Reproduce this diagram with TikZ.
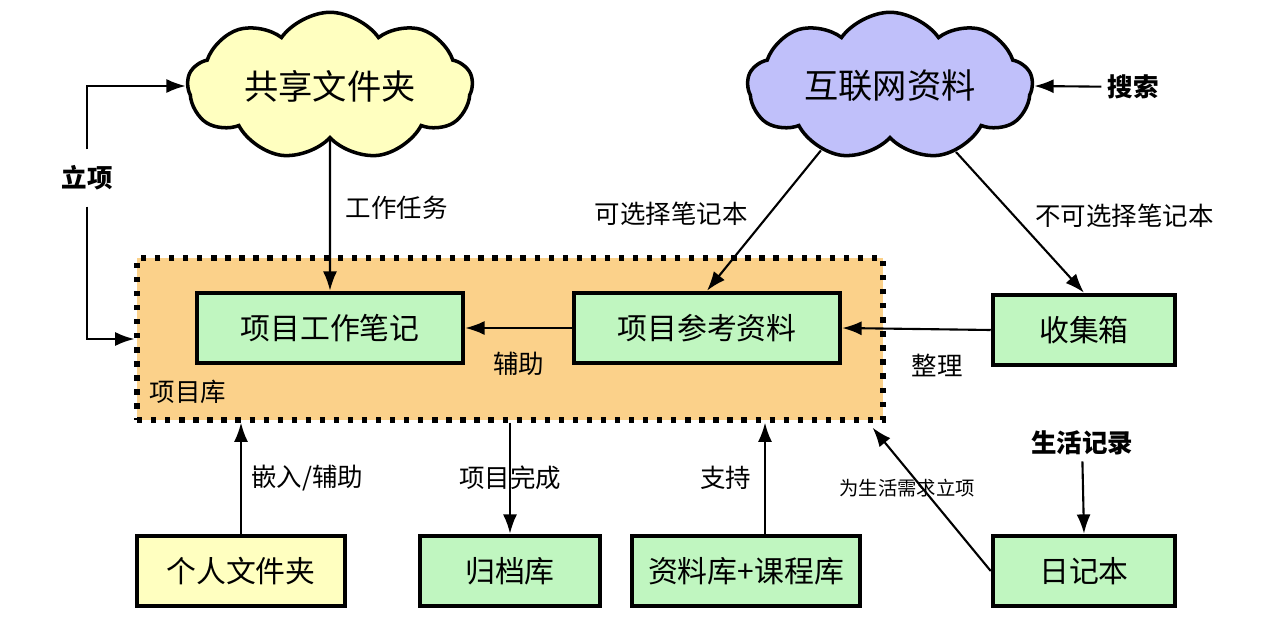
\documentclass[tikz,border=0pt]{standalone}
\usepackage{fontspec}
\setmainfont{Noto Sans CJK SC}
\usetikzlibrary{shapes.symbols,arrows.meta}
\definecolor{boxgreen}{RGB}{192,246,192}
\definecolor{boxyellow}{RGB}{255,255,192}
\definecolor{libfill}{RGB}{251,209,138}
\definecolor{webblue}{RGB}{192,192,250}

\begin{document}
\begin{tikzpicture}[x=0.02cm,y=-0.02cm,
  box/.style={draw,line width=2.6pt,minimum height=1.4cm,font=\fontsize{17}{20}\selectfont},
  puff/.style={cloud,cloud puffs=9,cloud puff arc=110,aspect=2.4,draw,line width=2pt,minimum width=5.7cm,minimum height=2.4cm,font=\fontsize{19.5}{22}\selectfont},
  lbl/.style={font=\fontsize{14.5}{17}\selectfont},
  blbl/.style={font=\fontsize{14.5}{17}\selectfont\bfseries},
  arr/.style={-{Latex[length=11pt,width=8pt]},line width=1.2pt}]

\useasboundingbox (0,0) rectangle (1284,628);

% project library (container)
\node[draw,fill=libfill,line width=3pt,dash pattern=on 3pt off 5pt,minimum width=14.92cm,minimum height=3.24cm] (projlib) at (510,339) {};
\node[lbl] (projlibtxt) at (188,392) {项目库};

% clouds
\node[puff,fill=boxyellow] (shared) at (330,86) {共享文件夹};
\node[puff,fill=webblue] (web) at (890,86) {互联网资料};

% boxes
\node[box,fill=boxgreen,minimum width=5.32cm] (worknote) at (330,328) {项目工作笔记};
\node[box,fill=boxgreen,minimum width=5.32cm] (refmat) at (707,328) {项目参考资料};
\node[box,fill=boxgreen,minimum width=3.64cm] (inbox) at (1084,330) {收集箱};
\node[box,fill=boxyellow,minimum width=4.16cm] (personal) at (241,571) {个人文件夹};
\node[box,fill=boxgreen,minimum width=3.6cm] (archive) at (510,571) {归档库};
\node[box,fill=boxgreen,minimum width=4.56cm] (library) at (746,571) {资料库+课程库};
\node[box,fill=boxgreen,minimum width=3.64cm] (diary) at (1084,571) {日记本};

% free labels
\node[blbl] (search) at (1133,87) {搜索};
\node[blbl,inner ysep=9pt] (lixiang) at (87,178) {立项};
\node[blbl] (liferec) at (1082,443) {生活记录};

% connectors
\draw[arr] (search) -- (web.east);
\draw[arr] (lixiang.north) |- (shared.west);
\draw[arr] (lixiang.south) |- (projlib.west);
\draw[arr,{Latex[length=11pt,width=8pt]}-] (worknote.north) -- (shared.south)
  node[lbl,pos=0.55,right=5pt] {工作任务};
\draw[arr] (web.223) -- (refmat.north) node[lbl,pos=0.45,left=0.3cm] {可选择笔记本};
\draw[arr] (web.315) -- (inbox.north) node[lbl,pos=0.45,right=0.3cm] {不可选择笔记本};
\draw[arr] (refmat.west) -- (worknote.east) node[lbl,midway,below=10pt] {辅助};
\draw[arr] (inbox.west) -- (refmat.east) node[lbl,pos=0.36,below=10pt] {整理};
\draw[arr] (personal.north) -- (personal.north |- projlib.south)
  node[lbl,midway,right=2pt] {嵌入/辅助};
\draw[arr] (archive.north |- projlib.south) -- (archive.north)
  node[lbl,midway] {项目完成};
\draw[arr] ([xshift=0.38cm]library.north) -- ([xshift=0.38cm]library.north |- projlib.south)
  node[lbl,midway,left=4pt] {支持};
\draw[arr] (diary.west) -- ([shift={(-0.26cm,-0.1cm)}]projlib.south east)
  node[pos=0.58,xshift=-0.3cm,font=\fontsize{11}{13}\selectfont] {为生活需求立项};
\draw[arr] (liferec) -- (diary.north);

\end{tikzpicture}
\end{document}
